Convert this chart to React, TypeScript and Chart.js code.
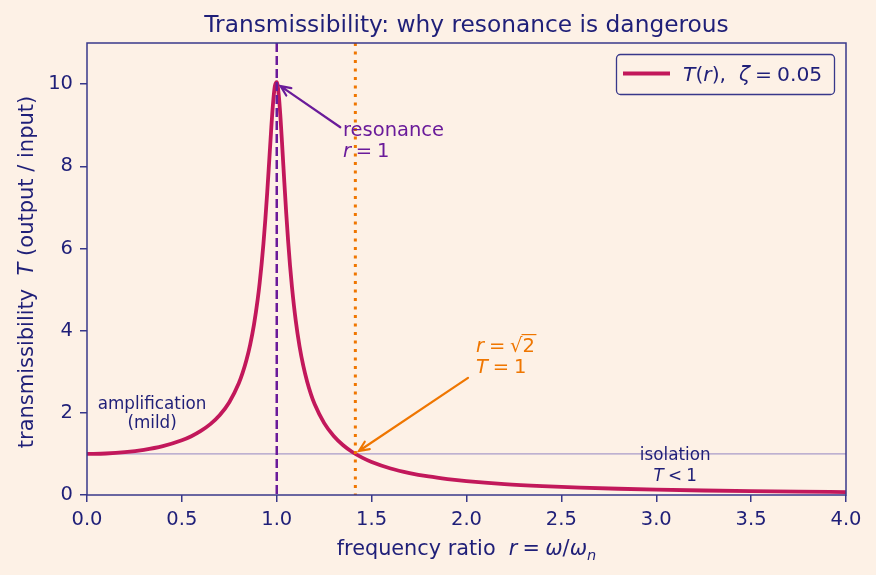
import React, { useEffect, useRef } from 'react';
import { Chart, registerables } from 'chart.js';

Chart.register(...registerables);

// frequency ratio r and transmissibility T(r) (zeta = 0.05)
const rValues = [0, 0.1, 0.2, 0.3, 0.4, 0.5, 0.55, 0.6, 0.65, 0.7, 0.75, 0.8, 0.82, 0.84, 0.86, 0.88, 0.9, 0.91, 0.92, 0.93, 0.94, 0.95, 0.96, 0.97, 0.98, 0.99, 1.0, 1.01, 1.02, 1.03, 1.04, 1.05, 1.06, 1.07, 1.08, 1.1, 1.12, 1.14, 1.16, 1.18, 1.2, 1.25, 1.3, 1.35, 1.4, 1.45, 1.5, 1.6, 1.7, 1.8, 1.9, 2.0, 2.2, 2.4, 2.6, 2.8, 3.0, 3.25, 3.5, 3.75, 4.0];
const tValues = [1.0, 1.01, 1.042, 1.099, 1.19, 1.332, 1.431, 1.559, 1.724, 1.947, 2.259, 2.72, 2.971, 3.278, 3.66, 4.146, 4.776, 5.163, 5.609, 6.123, 6.713, 7.379, 8.105, 8.845, 9.506, 9.951, 10.05, 9.76, 9.162, 8.401, 7.606, 6.853, 6.176, 5.583, 5.07, 4.244, 3.62, 3.14, 2.762, 2.457, 2.208, 1.749, 1.436, 1.211, 1.041, 0.909, 0.803, 0.646, 0.535, 0.452, 0.389, 0.339, 0.266, 0.216, 0.179, 0.152, 0.13, 0.11, 0.094, 0.082, 0.072];

const xTicks = [0, 0.5, 1.0, 1.5, 2.0, 2.5, 3.0, 3.5, 4.0];
const yTicks = [0, 2, 4, 6, 8, 10];
const xRange = [0, 4];
const yRange = [0, 11];

const resonanceR = 1.0;
const isolationR = 1.41421;
const unityT = 1.0;

const TITLE = 'Transmissibility: why resonance is dangerous';

const BG = '#fdf1e6';
const NAVY = '#1f1f78';
const SPINE = '#38388a';
const CURVE = '#c2185b';
const PURPLE = '#6a1b9a';
const ORANGE = '#ef7600';
const UNITY = '#a89bc9';
const FONT = '"DejaVu Sans", "Noto Sans", sans-serif';
const SP = '\u2005';

type Seg = { t: string; it?: boolean; sub?: boolean };

function drawMath(
  ctx: CanvasRenderingContext2D,
  segs: Seg[],
  x: number,
  y: number,
  size: number,
  color: string,
  align: 'left' | 'center' | 'right'
) {
  const fontFor = (s: Seg) => `${s.it ? 'italic ' : ''}${s.sub ? size * 0.7 : size}px ${FONT}`;
  const widths = segs.map((s) => {
    ctx.font = fontFor(s);
    return ctx.measureText(s.t).width;
  });
  const total = widths.reduce((a, b) => a + b, 0);
  let cx = align === 'left' ? x : align === 'center' ? x - total / 2 : x - total;
  ctx.save();
  ctx.fillStyle = color;
  ctx.textAlign = 'left';
  ctx.textBaseline = 'alphabetic';
  segs.forEach((s, i) => {
    ctx.font = fontFor(s);
    ctx.fillText(s.t, cx, y + (s.sub ? size * 0.22 : 0));
    cx += widths[i];
  });
  ctx.restore();
  return total;
}

function arrow(ctx: CanvasRenderingContext2D, x1: number, y1: number, x2: number, y2: number, color: string) {
  const ang = Math.atan2(y2 - y1, x2 - x1);
  const hl = 11;
  const ha = 0.42;
  ctx.save();
  ctx.strokeStyle = color;
  ctx.lineWidth = 2.2;
  ctx.lineCap = 'round';
  ctx.beginPath();
  ctx.moveTo(x1, y1);
  ctx.lineTo(x2, y2);
  ctx.moveTo(x2 - hl * Math.cos(ang - ha), y2 - hl * Math.sin(ang - ha));
  ctx.lineTo(x2, y2);
  ctx.lineTo(x2 - hl * Math.cos(ang + ha), y2 - hl * Math.sin(ang + ha));
  ctx.stroke();
  ctx.restore();
}

const decorPlugin = {
  id: 'decor',
  beforeDraw(chart: any) {
    const ctx = chart.ctx;
    ctx.save();
    ctx.fillStyle = BG;
    ctx.fillRect(0, 0, chart.width, chart.height);
    ctx.restore();
  },
  beforeDatasetsDraw(chart: any) {
    const { ctx, chartArea: a, scales } = chart;
    const y = scales.y.getPixelForValue(unityT);
    ctx.save();
    ctx.strokeStyle = UNITY;
    ctx.lineWidth = 1.3;
    ctx.beginPath();
    ctx.moveTo(a.left, y);
    ctx.lineTo(a.right, y);
    ctx.stroke();
    ctx.restore();
  },
  afterDatasetsDraw(chart: any) {
    const { ctx, chartArea: a, scales } = chart;
    const sx = scales.x;
    const sy = scales.y;
    const X = (v: number) => sx.getPixelForValue(v);
    const Y = (v: number) => sy.getPixelForValue(v);

    // resonance dashed line
    ctx.save();
    ctx.strokeStyle = PURPLE;
    ctx.lineWidth = 2.5;
    ctx.setLineDash([9, 4]);
    ctx.beginPath();
    ctx.moveTo(X(resonanceR), a.top);
    ctx.lineTo(X(resonanceR), a.bottom);
    ctx.stroke();
    // isolation dotted line
    ctx.strokeStyle = ORANGE;
    ctx.lineWidth = 3;
    ctx.setLineDash([3, 5.5]);
    ctx.beginPath();
    ctx.moveTo(X(isolationR), a.top);
    ctx.lineTo(X(isolationR), a.bottom);
    ctx.stroke();
    ctx.restore();

    // frame
    ctx.save();
    ctx.strokeStyle = SPINE;
    ctx.lineWidth = 1.5;
    ctx.strokeRect(a.left, a.top, a.right - a.left, a.bottom - a.top);
    ctx.restore();

    // arrows
    arrow(ctx, X(1.335), Y(8.95), X(1.02), Y(9.95), PURPLE);
    arrow(ctx, X(2.008), Y(2.85), X(1.433), Y(1.07), ORANGE);

    // resonance text
    drawMath(ctx, [{ t: 'resonance' }], X(1.349), Y(8.73), 19.5, PURPLE, 'left');
    drawMath(ctx, [{ t: 'r', it: true }, { t: SP + '=' + SP + '1' }], X(1.349), Y(8.22), 19.5, PURPLE, 'left');

    // isolation frequency text
    const bx = X(2.05);
    const by = Y(3.49);
    const w1 = drawMath(ctx, [{ t: 'r', it: true }, { t: SP + '=' + SP }], bx, by, 19.5, ORANGE, 'left');
    ctx.save();
    ctx.font = `19.5px ${FONT}`;
    ctx.fillStyle = ORANGE;
    ctx.textAlign = 'left';
    ctx.textBaseline = 'alphabetic';
    const wr = ctx.measureText('\u221A').width;
    ctx.fillText('\u221A', bx + w1, by);
    const w2 = ctx.measureText('2').width;
    ctx.fillText('2', bx + w1 + wr, by);
    ctx.strokeStyle = ORANGE;
    ctx.lineWidth = 1.2;
    ctx.beginPath();
    ctx.moveTo(bx + w1 + wr - 1, by - 17);
    ctx.lineTo(bx + w1 + wr + w2 + 1.5, by - 17);
    ctx.stroke();
    ctx.restore();
    drawMath(ctx, [{ t: 'T', it: true }, { t: SP + '=' + SP + '1' }], bx, Y(2.98), 19.5, ORANGE, 'left');

    // region labels
    drawMath(ctx, [{ t: 'amplification' }], X(0.343), Y(2.09), 16.8, NAVY, 'center');
    drawMath(ctx, [{ t: '(mild)' }], X(0.343), Y(1.62), 16.8, NAVY, 'center');
    drawMath(ctx, [{ t: 'isolation' }], X(3.1), Y(0.84), 16.8, NAVY, 'center');
    drawMath(ctx, [{ t: 'T', it: true }, { t: SP + '<' + SP + '1' }], X(3.1), Y(0.33), 16.8, NAVY, 'center');

    // legend
    ctx.save();
    ctx.fillStyle = BG;
    ctx.strokeStyle = SPINE;
    ctx.lineWidth = 1.3;
    ctx.beginPath();
    (ctx as any).roundRect(616.5, 54.5, 218, 40, 4);
    ctx.fill();
    ctx.stroke();
    ctx.strokeStyle = CURVE;
    ctx.lineWidth = 3.8;
    ctx.beginPath();
    ctx.moveTo(623, 73.5);
    ctx.lineTo(670, 73.5);
    ctx.stroke();
    ctx.restore();
    drawMath(
      ctx,
      [{ t: 'T', it: true }, { t: '(' }, { t: 'r', it: true }, { t: '),  ' }, { t: '\u03B6', it: true }, { t: SP + '=' + SP + '0.05' }],
      683,
      80.5,
      20.3,
      NAVY,
      'left'
    );

    // title
    drawMath(ctx, [{ t: TITLE }], (a.left + a.right) / 2, 31.5, 23.3, NAVY, 'center');

    // x axis label
    drawMath(
      ctx,
      [{ t: 'frequency ratio  ' }, { t: 'r', it: true }, { t: SP + '=' + SP }, { t: '\u03C9', it: true }, { t: '/' }, { t: '\u03C9', it: true }, { t: 'n', it: true, sub: true }],
      (a.left + a.right) / 2,
      555,
      20.8,
      NAVY,
      'center'
    );

    // y axis label
    ctx.save();
    ctx.translate(33, (a.top + a.bottom) / 2 + 3);
    ctx.rotate(-Math.PI / 2);
    drawMath(ctx, [{ t: 'transmissibility  ' }, { t: 'T', it: true }, { t: ' (output / input)' }], 0, 0, 21, NAVY, 'center');
    ctx.restore();
  },
};

export default function App() {
  const ref = useRef<HTMLCanvasElement | null>(null);

  useEffect(() => {
    document.body.style.margin = '0';
    document.body.style.background = BG;
    const canvas = ref.current;
    if (!canvas) return;
    const chart = new Chart(canvas, {
      type: 'scatter',
      data: {
        datasets: [
          {
            label: 'T(r), zeta = 0.05',
            data: rValues.map((r, i) => ({ x: r, y: tValues[i] })),
            showLine: true,
            borderColor: CURVE,
            backgroundColor: CURVE,
            borderWidth: 3.8,
            pointRadius: 0,
            cubicInterpolationMode: 'monotone',
            fill: false,
          } as any,
        ],
      },
      options: {
        responsive: false,
        animation: false,
        devicePixelRatio: 1,
        layout: { padding: { top: 43, right: 30, left: 0, bottom: 0 } },
        plugins: {
          legend: { display: false },
          title: { display: false },
          tooltip: { enabled: false },
        },
        scales: {
          x: {
            type: 'linear',
            min: xRange[0],
            max: xRange[1],
            afterBuildTicks: (s: any) => {
              s.ticks = xTicks.map((v) => ({ value: v }));
            },
            afterFit: (s: any) => {
              s.height = 80;
            },
            ticks: {
              color: NAVY,
              font: { family: FONT, size: 19.5 },
              padding: 6,
              maxRotation: 0,
              autoSkip: false,
              callback: (v: any) => Number(v).toFixed(1),
            },
            grid: { drawOnChartArea: false, drawTicks: true, tickLength: 7, color: SPINE, lineWidth: 1.5 },
            border: { display: false },
          },
          y: {
            type: 'linear',
            min: yRange[0],
            max: yRange[1],
            afterBuildTicks: (s: any) => {
              s.ticks = yTicks.map((v) => ({ value: v }));
            },
            afterFit: (s: any) => {
              s.width = 87;
            },
            ticks: {
              color: NAVY,
              font: { family: FONT, size: 19.5 },
              padding: 7,
              autoSkip: false,
              callback: (v: any) => String(v),
            },
            grid: { drawOnChartArea: false, drawTicks: true, tickLength: 7, color: SPINE, lineWidth: 1.5 },
            border: { display: false },
          },
        },
      },
      plugins: [decorPlugin],
    });
    return () => chart.destroy();
  }, []);

  return (
    <div style={{ width: 876, height: 575, background: BG }}>
      <canvas ref={ref} width={876} height={575} style={{ display: 'block', width: 876, height: 575 }} />
    </div>
  );
}
